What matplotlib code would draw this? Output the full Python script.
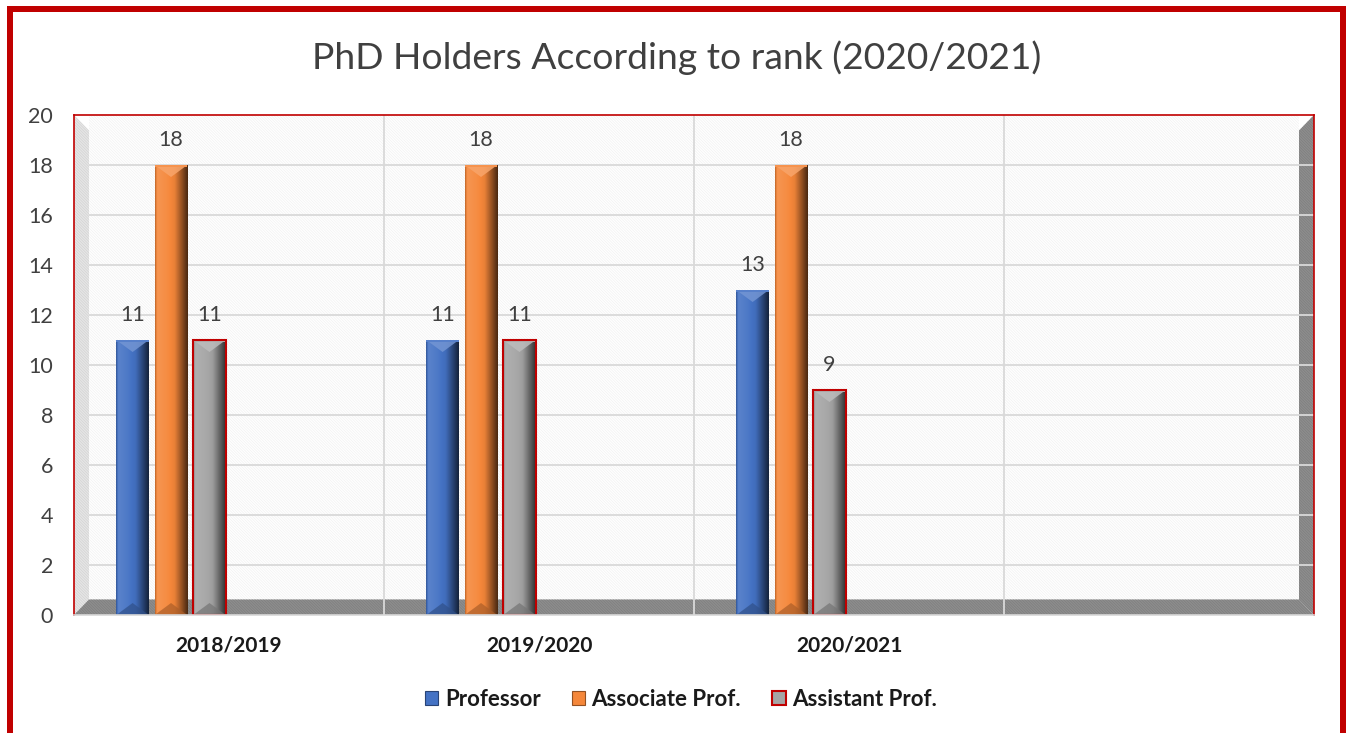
import numpy as np
import matplotlib
matplotlib.use("Agg")
import matplotlib.pyplot as plt
from matplotlib.patches import Polygon, Patch, Rectangle
from matplotlib.colors import to_rgb

plt.rcParams['font.family'] = ['Lato', 'DejaVu Sans']
plt.rcParams['hatch.linewidth'] = 0.5

# ---------------- data ----------------
title = "PhD Holders According to rank (2020/2021)"
categories = ["2018/2019", "2019/2020", "2020/2021", ""]
series_names = ["Professor", "Associate Prof.", "Assistant Prof."]
professor = [11, 11, 13]
associate = [18, 18, 18]
assistant = [11, 11, 9]
y_ticks = [0, 2, 4, 6, 8, 10, 12, 14, 16, 18, 20]

series_values = [professor, associate, assistant]
series_colors = ["#4472C4", "#F5873A", "#A5A5A5"]
series_edges = [None, None, "#C00000"]

W, H = 1351, 733
fig = plt.figure(figsize=(W / 100, H / 100), dpi=100)
fig.patch.set_facecolor("white")

# figure red frame (top, left, right)
red = "#C00000"
fig.add_artist(Rectangle((7 / W, 0), 6 / W, 1 - 6 / H, transform=fig.transFigure, color=red, lw=0))
fig.add_artist(Rectangle((1340 / W, 0), 6 / W, 1 - 6 / H, transform=fig.transFigure, color=red, lw=0))
fig.add_artist(Rectangle((7 / W, 1 - 12 / H), 1339 / W, 6 / H, transform=fig.transFigure, color=red, lw=0))

ax_l, ax_r, ax_t, ax_b = 74, 1314, 115, 615
ax = fig.add_axes([ax_l / W, (H - ax_b) / H, (ax_r - ax_l) / W, (ax_b - ax_t) / H])
ncat = len(categories)
ymax = y_ticks[-1]
ax.set_xlim(0, ncat)
ax.set_ylim(0, ymax)
ax.set_facecolor("white")

px_x = ncat / (ax_r - ax_l)   # data units per pixel
px_y = ymax / (ax_b - ax_t)
dx = 15 * px_x
dy = 15.5 * px_y

# back wall hatch
hatch = "\\" * 12
back = Rectangle((dx, dy), ncat - 2 * dx, ymax - dy, facecolor="white", edgecolor="#F1F1F1",
                 hatch=hatch, lw=0, zorder=0.2)
ax.add_patch(back)
# left wall
lw_poly = Polygon([(0, 0), (0, ymax), (dx, ymax - dy), (dx, dy)], closed=True,
                  facecolor="#E6E6E6", edgecolor="#D2D2D2", hatch=hatch, lw=0, zorder=0.4)
ax.add_patch(lw_poly)
# right wall
rw_poly = Polygon([(ncat - dx, ymax - dy), (ncat, ymax), (ncat, 0), (ncat - dx, dy)], closed=True,
                  facecolor="#8E8E8E", edgecolor="#7E7E7E", hatch=hatch, lw=0, zorder=0.4)
ax.add_patch(rw_poly)
# floor
fl_poly = Polygon([(0, 0), (dx, dy), (ncat - dx, dy), (ncat, 0)], closed=True,
                  facecolor="#8E8E8E", edgecolor="#7E7E7E", hatch=hatch, lw=0, zorder=0.5)
ax.add_patch(fl_poly)

# gridlines
for yv in y_ticks[1:-1]:
    ax.plot([dx, ncat], [yv, yv], color="#D9D9D9", lw=1.3, zorder=1, solid_capstyle="butt")
for xv in range(1, ncat):
    ax.plot([xv, xv], [0, ymax], color="#D9D9D9", lw=1.3, zorder=1, solid_capstyle="butt")

# spines
for s in ["top", "left", "right"]:
    ax.spines[s].set_color(red)
    ax.spines[s].set_linewidth(1.2)
ax.spines["bottom"].set_color("#D8D8D8")
ax.spines["bottom"].set_linewidth(1.2)
for s in ax.spines.values():
    s.set_zorder(5)


def shade(c, f):
    r = np.array(to_rgb(c))
    if f >= 1:
        return tuple(r + (1 - r) * (f - 1))
    return tuple(r * f)


bar_w = 0.105
bar_step = 0.124
for j, (vals, col, ec) in enumerate(zip(series_values, series_colors, series_edges)):
    xs = np.arange(len(vals)) + 0.5 + (j - 1) * bar_step - 0.187
    bars = ax.bar(xs, vals, width=bar_w, color=col, zorder=3, lw=0)
    for b, v in zip(bars, vals):
        x0, w, h = b.get_x(), b.get_width(), b.get_height()
        # horizontal gradient
        stops = [(0.0, 0.75), (0.06, 1.12), (0.35, 1.05), (0.6, 0.95), (0.85, 0.55), (1.0, 0.3)]
        t = np.linspace(0, 1, 64)
        fac = np.interp(t, [s[0] for s in stops], [s[1] for s in stops])
        grad = np.array([[shade(col, f) for f in fac]])
        ax.imshow(grad, extent=[x0, x0 + w, 0, h], aspect="auto", interpolation="bicubic", zorder=3.1)
        bev = 12 * px_y
        top_tri = Polygon([(x0, h), (x0 + w, h), (x0 + w / 2, h - bev)], closed=True,
                          facecolor=shade(col, 1.25), lw=0, alpha=0.85, zorder=3.2)
        ax.add_patch(top_tri)
        top_band = Rectangle((x0, h - 2 * px_y), w, 2 * px_y, facecolor=shade(col, 1.1), lw=0, zorder=3.25)
        ax.add_patch(top_band)
        bot_tri = Polygon([(x0, 0), (x0 + w, 0), (x0 + w / 2, bev)], closed=True,
                          facecolor=shade(col, 0.7), lw=0, alpha=0.7, zorder=3.2)
        ax.add_patch(bot_tri)
        if ec:
            ax.add_patch(Rectangle((x0, 0), w, h, facecolor="none", edgecolor=ec, lw=1.5, zorder=3.4))
        ax.text(x0 + w / 2, h + 1.0, f"{v}", ha="center", va="center", fontsize=15.5,
                color="#404040", zorder=6)

ax.set_xlim(0, ncat)
ax.set_ylim(0, ymax)

ax.set_yticks(y_ticks)
ax.set_yticklabels([str(v) for v in y_ticks], fontsize=15.5, color="#404040")
ax.set_xticks(np.arange(ncat) + 0.5)
ax.set_xticklabels(categories, fontsize=15, fontweight="bold", color="#1A1A1A")
ax.tick_params(axis="y", length=0, pad=15)
ax.tick_params(axis="x", length=0, pad=15)

fig.text(677 / W, 1 - 58 / H, title, ha="center", va="center", fontsize=26.8, color="#404040")

handles = []
for name, col, ec in zip(series_names, series_colors, series_edges):
    handles.append(Patch(facecolor=col, edgecolor=ec if ec else shade(col, 0.6), lw=1.5 if ec else 0.8, label=name))
leg = fig.legend(handles=handles, loc="center", bbox_to_anchor=(681 / W, 1 - 699 / H), ncol=3,
                 frameon=False, handlelength=0.6, handleheight=0.6, handletextpad=0.3,
                 columnspacing=1.4, prop={"weight": "bold", "size": 16})
for t in leg.get_texts():
    t.set_color("#1A1A1A")

fig.savefig("out.png", dpi=100, facecolor="white")
